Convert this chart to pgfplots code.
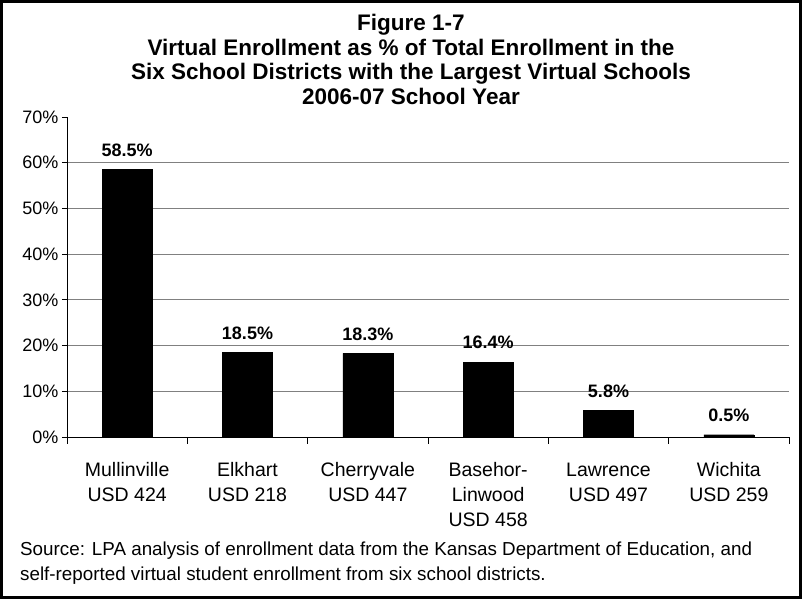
\documentclass[border=0pt]{standalone}
\usepackage{pgfplots}
\pgfplotsset{compat=1.18}
\usepackage{fontspec}
\setmainfont{Liberation Sans}
\definecolor{gridgray}{HTML}{808080}
\begin{document}
\begin{tikzpicture}
\useasboundingbox (0,0) rectangle (802pt,599pt);
\begin{axis}[
  at={(67pt,162pt)}, anchor=south west,
  scale only axis, width=722pt, height=320pt,
  ybar, bar width=50pt, bar shift=0pt,
  xmin=0.5, xmax=6.5, ymin=0, ymax=70,
  axis x line*=bottom, axis y line*=left,
  axis line style={black, line width=0.8pt},
  ymajorgrids=true,
  major grid style={gridgray, line width=0.8pt},
  ytick={0,10,...,60},
  yticklabel={\pgfmathprintnumber{\tick}\%},
  extra y ticks={70},
  extra y tick style={grid=none},
  xtick={1,...,6},
  xticklabels={{\strut Mullinville\\USD 424},{\strut Elkhart\\USD 218},{\strut Cherryvale\\USD 447},{\strut Basehor-\\Linwood\\USD 458},{\strut Lawrence\\USD 497},{\strut Wichita\\USD 259}},
  minor xtick={0.5,1.5,...,6.5},
  major x tick style={draw=none},
  tick align=outside,
  major tick length=5pt, minor tick length=7pt,
  tick style={black, line width=0.8pt},
  xticklabel style={align=center, anchor=north, font=\fontsize{19.5}{24.8}\selectfont, yshift=-14pt},
  yticklabel style={font=\fontsize{18}{20}\selectfont},
  /pgf/number format/assume math mode=true,
  nodes near coords={\pgfmathprintnumber[fixed,precision=1,fixed zerofill]{\pgfplotspointmeta}\%},
  every node near coord/.append style={font=\bfseries\fontsize{18}{20}\selectfont, yshift=9.5pt},
]
\addplot[fill=black, draw=black] coordinates {(1,58.5) (2,18.5) (3,18.3) (4,16.4) (5,5.8) (6,0.5)};
\end{axis}
\node[align=center, font=\bfseries\fontsize{22.5}{24.9}\selectfont] at (411pt,539.5pt)
  {Figure 1-7\\Virtual Enrollment as \% of Total Enrollment in the\\Six School Districts with the Largest Virtual Schools\\2006-07 School Year};
\node[align=left, anchor=west, font=\fontsize{18.8}{25}\selectfont, inner sep=0pt] at (20pt,36pt)
  {Source: LPA analysis of enrollment data from the Kansas Department of Education, and\\self-reported virtual student enrollment from six school districts.};
\draw[line width=3pt] (1.5pt,1.5pt) rectangle (800.5pt,597.5pt);
\end{tikzpicture}
\end{document}
